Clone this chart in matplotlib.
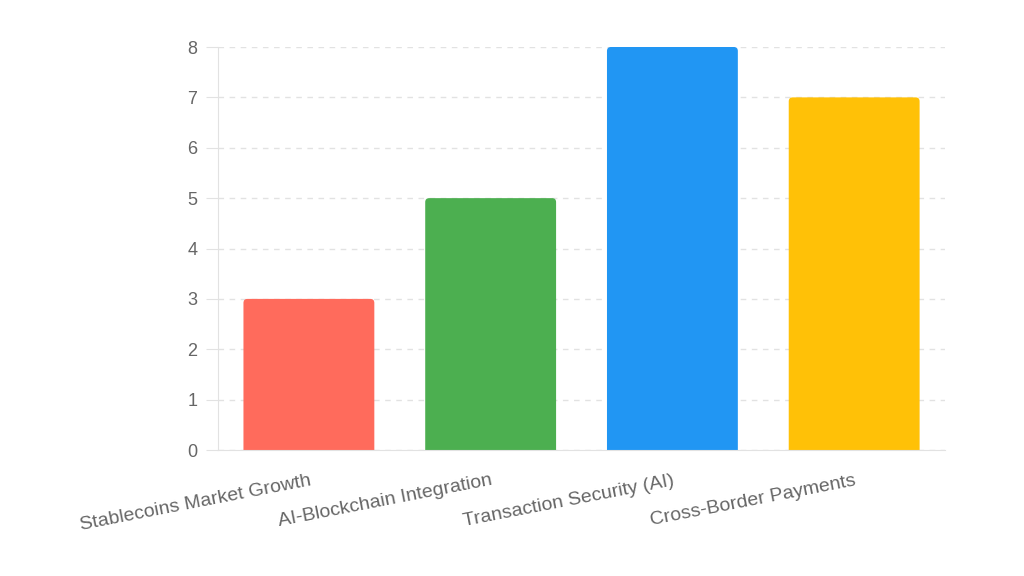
import matplotlib.pyplot as plt
from matplotlib.patches import FancyBboxPatch

plt.rcParams['font.family'] = ['Liberation Sans', 'DejaVu Sans']

# Chart data
categories = ['Stablecoins Market Growth', 'AI-Blockchain Integration',
              'Transaction Security (AI)', 'Cross-Border Payments']
values = [3, 5, 8, 7]
colors = ['#FF6B5C', '#4CAF50', '#2196F3', '#FFC107']
y_ticks = [0, 1, 2, 3, 4, 5, 6, 7, 8]

fig = plt.figure(figsize=(10.24, 5.76), dpi=100)
ax = fig.add_axes([0.2129, 0.2187, 0.71, 0.6997])

bars = ax.bar(range(len(categories)), values, width=0.72, color=colors, zorder=2)

# swap plain bars for ones with slightly rounded corners
for b, c in zip(bars, colors):
    x0, w, h = b.get_x(), b.get_width(), b.get_height()
    b.set_visible(False)
    p = FancyBboxPatch((x0, -0.3), w, h + 0.3,
                       boxstyle='round,pad=0,rounding_size=0.022',
                       mutation_aspect=3.6, facecolor=c, edgecolor='none',
                       zorder=2)
    ax.add_patch(p)

ax.set_xlim(-0.5, len(categories) - 0.5)
ax.set_ylim(0, 8)
ax.set_yticks(y_ticks)
ax.set_xticks(range(len(categories)))
ax.set_xticklabels(categories, rotation=11, ha='right', rotation_mode='anchor')

ax.yaxis.grid(True, color='#e2e2e2', linestyle=(0, (4, 4)), linewidth=1, zorder=0)
ax.set_axisbelow(True)

for s in ['top', 'right']:
    ax.spines[s].set_visible(False)
for s in ['left', 'bottom']:
    ax.spines[s].set_color('#e2e2e2')
    ax.spines[s].set_zorder(3)

ax.tick_params(axis='y', colors='#e2e2e2', labelcolor='#666666', labelsize=13, length=9, pad=6)
ax.tick_params(axis='x', length=0, labelcolor='#666666', labelsize=14, pad=16)

fig.savefig('out.png', dpi=100, facecolor='white')
